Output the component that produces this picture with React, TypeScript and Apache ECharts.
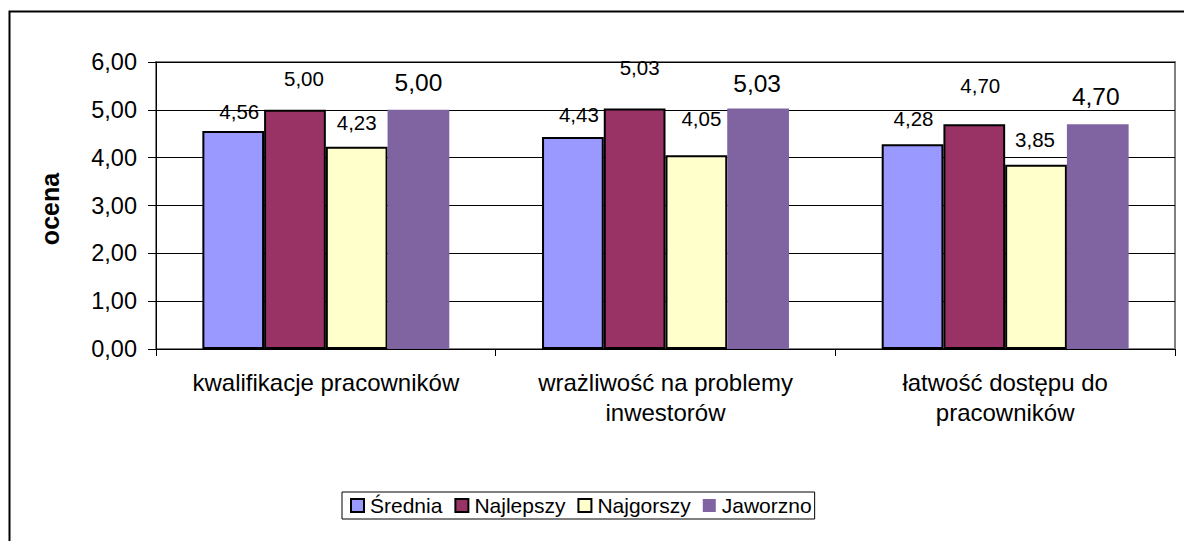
import React, { useEffect, useRef } from "react";
import * as echarts from "echarts";

const categories = [
  "kwalifikacje pracowników",
  "wrażliwość na problemy\ninwestorów",
  "łatwość dostępu do\npracowników",
];
const seriesNames = ["Średnia", "Najlepszy", "Najgorszy", "Jaworzno"];
const sredniaValues = [4.56, 4.43, 4.28];
const najlepszyValues = [5.0, 5.03, 4.7];
const najgorszyValues = [4.23, 4.05, 3.85];
const jaworznoValues = [5.0, 5.03, 4.7];
const yTicks = [0, 1, 2, 3, 4, 5, 6];

// label placement styles (px above bar top for label centre, px horizontal shift)
const labelLift = [
  [19, 22, 26],
  [31, 41, 38],
  [24, 37, 25],
  [27, 25, 27],
];
const labelShift = [
  [6, 6, 1],
  [9, 5, 6],
  [0, 5, -1],
  [0, -1, -2],
];
const colors = ["#9999FF", "#993366", "#FFFFCC", "#8064A2"];
const borders = [true, true, true, false];
const labelSizes = [20.5, 20.5, 20.5, 24.5];

const FONT = "'Liberation Sans', Arial, sans-serif";

export default function App() {
  const ref = useRef<HTMLDivElement>(null);
  useEffect(() => {
    if (!ref.current) return;
    const chart = echarts.init(ref.current, undefined, { renderer: "svg" });
    const allValues = [sredniaValues, najlepszyValues, najgorszyValues, jaworznoValues];
    const fmt = (v: number) => v.toFixed(2).replace(".", ",");
    const series = allValues.map((vals, si) => ({
      name: seriesNames[si],
      type: "bar",
      barGap: "0%",
      barCategoryGap: "27.3%",
      itemStyle: {
        color: colors[si],
        borderColor: borders[si] ? "#000" : colors[si],
        borderWidth: borders[si] ? 2 : 0,
      },
      data: vals.map((v, ci) => ({
        value: v,
        label: {
          show: true,
          position: "top",
          distance: 0,
          offset: [labelShift[si][ci], -(labelLift[si][ci] - labelSizes[si] / 2)],
          formatter: () => fmt(v),
          fontSize: labelSizes[si],
          color: "#000",
          fontFamily: FONT,
        },
      })),
    }));
    chart.setOption({
      animation: false,
      backgroundColor: "#fff",
      textStyle: { fontFamily: FONT },
      grid: {
        left: 156,
        right: 9,
        top: 62,
        bottom: 192,
        show: true,
        borderColor: "#808080",
        borderWidth: 2,
      },
      legend: {
        left: 342,
        top: 492,
        padding: [3, 3, 3, 8],
        borderColor: "#000",
        borderWidth: 1,
        itemWidth: 13,
        itemHeight: 13,
        itemGap: 12,
        icon: "rect",
        textStyle: { fontSize: 21, color: "#000", fontFamily: FONT, padding: [0, 0, 0, 1] },
        data: seriesNames,
      },
      xAxis: {
        type: "category",
        data: categories,
        axisLine: { lineStyle: { color: "#000", width: 1 } },
        axisTick: { show: true, length: 7, lineStyle: { color: "#000" } },
        axisLabel: {
          interval: 0,
          fontSize: 24,
          color: "#000",
          margin: 18,
          lineHeight: 30,
          fontFamily: FONT,
        },
      },
      yAxis: {
        type: "value",
        min: yTicks[0],
        max: yTicks[yTicks.length - 1],
        interval: 1,
        axisLine: { show: true, lineStyle: { color: "#000", width: 1 } },
        axisTick: { show: true, length: 8, lineStyle: { color: "#000" } },
        splitLine: { lineStyle: { color: "#000", width: 1 } },
        axisLabel: {
          fontSize: 23.5,
          color: "#000",
          margin: 19,
          fontFamily: FONT,
          formatter: (v: number) => fmt(v),
        },
      },
      graphic: [
        {
          type: "rect",
          shape: { x: 9.5, y: 11.5, width: 1300, height: 700 },
          style: { fill: "none", stroke: "#000", lineWidth: 2 },
          silent: true,
          z: -1,
        },
        {
          type: "text",
          x: 50,
          y: 209,
          rotation: Math.PI / 2,
          style: {
            text: "ocena",
            fontSize: 25,
            fontWeight: "bold",
            fill: "#000",
            align: "center",
            verticalAlign: "middle",
            fontFamily: FONT,
          },
        },
      ],
      series,
    });
    return () => chart.dispose();
  }, []);
  return (
    <div
      ref={ref}
      style={{ position: "fixed", left: 0, top: 0, width: 1184, height: 541 }}
    />
  );
}
